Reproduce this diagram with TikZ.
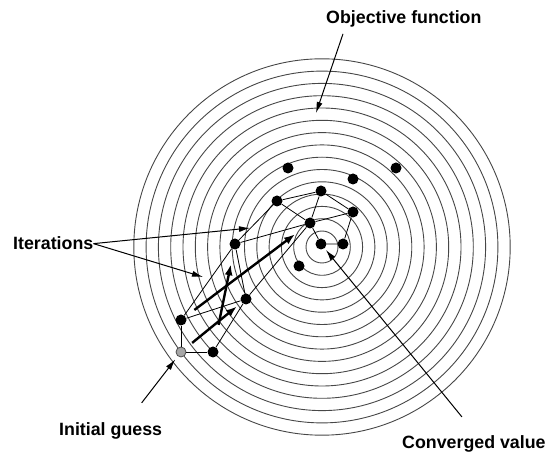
\documentclass[tikz,border=0pt]{standalone}
\usepackage{fontspec}
\setmainfont{Liberation Sans}
\usepackage{tikz}
\usetikzlibrary{arrows.meta}

\tikzset{
  pt/.style={circle,fill=black,inner sep=0pt,minimum size=11pt},
  ptgrey/.style={circle,draw=black!70,fill=black!35,line width=0.8pt,inner sep=0pt,minimum size=10pt},
  simplex/.style={draw=black,line width=0.8pt},
  reflect/.style={draw=black,line width=2.4pt,-{Latex[length=11pt,width=8pt]}},
  pointer/.style={draw=black,line width=1pt,-{Latex[length=11pt,width=6pt]}},
  lbl/.style={font=\fontsize{17.8}{20}\selectfont\bfseries,inner sep=0pt,anchor=base west}
}

\begin{document}
\begin{tikzpicture}[x=1pt,y=-1pt]
\useasboundingbox (0,0) rectangle (558,457);
% objects at depth 90: contours
\foreach \k in {0,...,14}
  \path[draw=black!72,line width=0.9pt] (322,247) circle ({16+12.3*\k});
% objects at depth 50: points
\node[ptgrey] (ig) at (181,352) {};
\node[pt] (v1) at (213,352) {};
\node[pt] (v2) at (181,320) {};
\node[pt] (v3) at (246,299) {};
\node[pt] (v4) at (235,244) {};
\node[pt] (v5) at (277,201) {};
\node[pt] (v6) at (310,223) {};
\node[pt] (v7) at (321,191) {};
\node[pt] (v8) at (353,212) {};
\node[pt] (v9) at (288,168) {};
\node[pt] (v10) at (353,179) {};
\node[pt] (v11) at (396,168) {};
\node[pt] (cv) at (321,244) {};
\node[pt] (v13) at (343,244) {};
\node[pt] (v14) at (299,266) {};
% objects at depth 40: simplex edges
\path[simplex] (ig) -- (v2) (ig) -- (v1);
\path[simplex] (v2) -- (v3) (v1) -- (v3);
\path[simplex] (v2) -- (v4) (v3) -- (v4);
\path[simplex] (v3) -- (v6) (v4) -- (v6);
\path[simplex] (v4) -- (v5) (v5) -- (v6);
\path[simplex] (v5) -- (v7) (v6) -- (v7);
\path[simplex] (v7) -- (v8) (v6) -- (v8);
\path[simplex] (v8) -- (v13) (v6) -- (cv) (cv) -- (v13);
% objects at depth 30: reflection steps
\path[reflect,shorten <=9pt,shorten >=6pt] (ig) -- (v3);
\path[reflect,shorten <=22pt,shorten >=15pt] (v1) -- (v4);
\path[reflect,shorten <=11pt,shorten >=13pt] (v2) -- (v6);
% objects at depth 10: labels
\node[lbl] (obj) at (326,24) {Objective function};
\node[lbl] (iter) at (13,250) {Iterations};
\node[lbl] (init) at (59,436) {Initial guess};
\node[lbl] (conv) at (402,449) {Converged value};
\coordinate (objtip) at (316,113);
\coordinate (itertipa) at (250,228);
\coordinate (itertipb) at (203,277);
\path[pointer] (obj.south west) ++(17,6) -- (objtip);
\path[pointer] (iter.east) -- (itertipa);
\path[pointer] (iter.east) -- (itertipb);
\path[pointer,shorten >=4pt] (init.north) ++(31,-20) -- (ig);
\path[pointer,shorten >=2pt] (conv.north) ++(-12,-19) -- (cv);
\end{tikzpicture}
\end{document}
